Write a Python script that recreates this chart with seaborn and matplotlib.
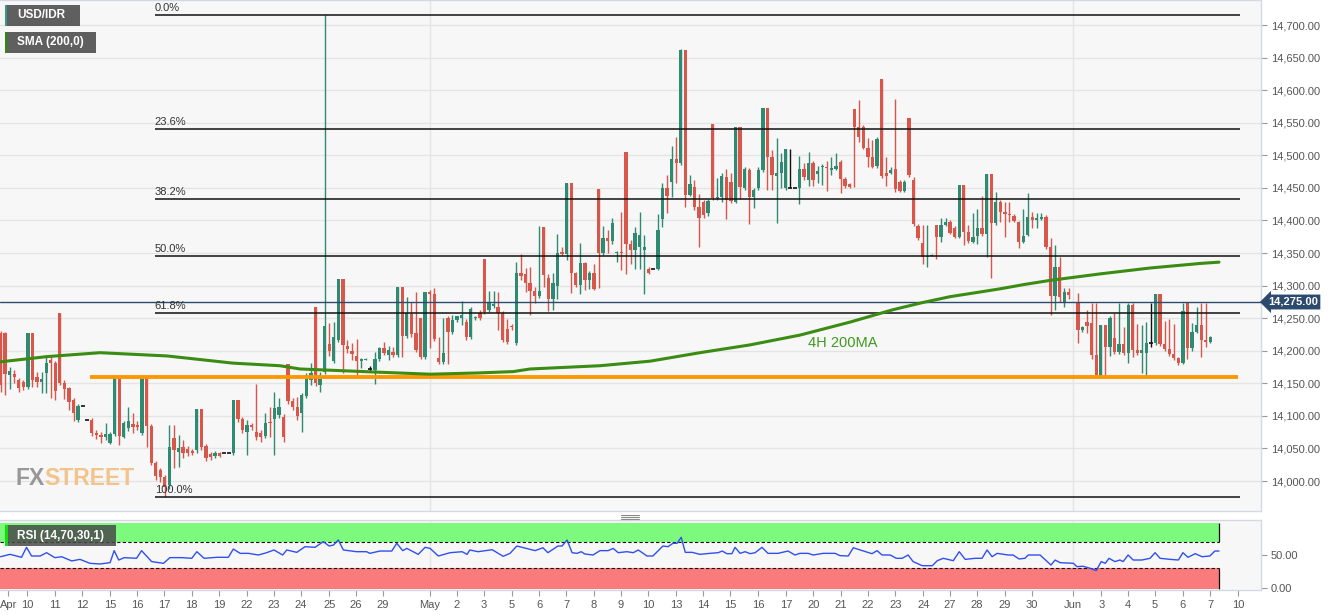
import numpy as np
import pandas as pd
import matplotlib
matplotlib.use("Agg")
import matplotlib.pyplot as plt
import seaborn as sns
from matplotlib.patches import Rectangle
from matplotlib.lines import Line2D

nan = np.nan

# ---------------- data (4H candles, USD/IDR) ----------------
opens = [14227, 14227, 14163, 14164, 14155, 14152, 14144, 14227, 14160, 14152,
         14166, 14186, 14181, 14258, 14150, 14143, 14124, 14094, 14115, 14094,
         14094, 14074, 14071, 14068, 14058, 14072, 14158, 14068, 14081, 14088,
         14086, 14074, 14158, 14084, 14028, 14017, 14006, 13994, 14066, 14045,
         14052, 14049, 14046, 14048, 14111, 14054, 14041, 14039, 14043, 14043,
         14043, 14043, 14124, 14095, 14075, 14086, 14075, 14074, 14069, 14091,
         14095, 14101, 14098, 14180, 14123, 14114, 14104, 14131, 14155, 14267,
         14147, 14167, 14210, 14184, 14216, 14310, 14207, 14200, 14192, 14184,
         14186, 14172, 14170, 14187, 14204, 14193, 14198, 14193, 14298, 14223,
         14256, 14227, 14250, 14190, 14290, 14287, 14189, 14183, 14250, 14229,
         14247, 14250, 14244, 14221, 14250, 14258, 14341, 14263, 14269, 14267,
         14258, 14233, 14238, 14212, 14319, 14318, 14304, 14292, 14284, 14390,
         14312, 14279, 14299, 14352, 14349, 14457, 14319, 14301, 14335, 14309,
         14319, 14448, 14350, 14373, 14368, 14350, 14352, 14505, 14364, 14355,
         14359, 14355, 14325, 14325, 14325, 14402, 14450, 14459, 14494, 14488,
         14662, 14439, 14451, 14421, 14428, 14411, 14548, 14434, 14436, 14467,
         14459, 14428, 14543, 14450, 14477, 14436, 14450, 14477, 14573, 14497,
         14468, 14473, 14450, 14450, 14450, 14450, 14479, 14462, 14488, 14471,
         14482, 14482, 14477, 14479, 14490, 14464, 14456, 14571, 14543, 14543,
         14511, 14497, 14484, 14617, 14473, 14473, 14479, 14459, 14445, 14557,
         14462, 14392, 14365, 14344, 14345, 14393, 14375, 14393, 14398, 14388,
         14375, 14454, 14382, 14367, 14376, 14388, 14379, 14471, 14396, 14428,
         14413, 14410, 14407, 14398, 14367, 14378, 14405, 14401, 14402, 14405,
         14359, 14284, 14329, 14275, 14290, nan, 14273, 14232, 14244, 14243,
         14193, 14161, 14240, 14206, 14220, 14198, 14210, 14197, 14270, 14201,
         14197, 14197, 14212, 14212, 14287, 14210, 14203, 14195, 14189, 14181,
         14273, 14204, 14229, 14240, 14216, 14213]

highs = [14230, 14229, 14175, 14170, 14158, 14155, 14227, 14227, 14167, 14167,
         14193, 14190, 14184, 14258, 14155, 14144, 14127, 14118, 14115, 14094,
         14097, 14078, 14075, 14089, 14075, 14158, 14158, 14092, 14114, 14104,
         14092, 14158, 14158, 14088, 14031, 14020, 14009, 14086, 14086, 14071,
         14063, 14054, 14049, 14111, 14111, 14057, 14045, 14046, 14045, 14043,
         14043, 14124, 14124, 14098, 14094, 14089, 14149, 14078, 14104, 14114,
         14137, 14127, 14103, 14180, 14127, 14129, 14135, 14166, 14181, 14267,
         14167, 14715, 14243, 14244, 14310, 14310, 14216, 14212, 14218, 14189,
         14189, 14177, 14198, 14206, 14213, 14207, 14206, 14298, 14298, 14283,
         14275, 14290, 14250, 14290, 14293, 14296, 14221, 14250, 14253, 14255,
         14253, 14276, 14249, 14267, 14253, 14263, 14341, 14292, 14292, 14290,
         14261, 14249, 14241, 14336, 14349, 14327, 14329, 14298, 14392, 14390,
         14318, 14319, 14379, 14359, 14457, 14457, 14321, 14365, 14336, 14322,
         14333, 14448, 14392, 14385, 14404, 14353, 14413, 14505, 14370, 14390,
         14413, 14378, 14329, 14325, 14410, 14457, 14470, 14514, 14528, 14663,
         14662, 14470, 14462, 14441, 14431, 14433, 14548, 14465, 14473, 14479,
         14473, 14543, 14543, 14482, 14481, 14450, 14482, 14573, 14573, 14508,
         14527, 14504, 14510, 14510, 14450, 14499, 14488, 14505, 14491, 14484,
         14487, 14491, 14497, 14504, 14493, 14467, 14457, 14571, 14585, 14547,
         14527, 14523, 14528, 14617, 14497, 14482, 14586, 14462, 14462, 14557,
         14467, 14395, 14393, 14393, 14349, 14393, 14404, 14404, 14401, 14392,
         14454, 14454, 14393, 14411, 14418, 14437, 14471, 14471, 14444, 14431,
         14428, 14428, 14410, 14399, 14418, 14442, 14413, 14411, 14411, 14408,
         14373, 14362, 14344, 14296, 14296, nan, 14289, 14238, 14263, 14273,
         14273, 14240, 14240, 14253, 14258, 14273, 14236, 14273, 14273, 14241,
         14240, 14244, 14273, 14287, 14287, 14246, 14249, 14241, 14190, 14273,
         14273, 14243, 14267, 14273, 14273, 14223]

lows = [14137, 14132, 14141, 14150, 14137, 14140, 14141, 14144, 14144, 14135,
        14135, 14127, 14124, 14147, 14126, 14109, 14092, 14091, 14115, 14094,
        14069, 14065, 14058, 14063, 14057, 14069, 14055, 14066, 14077, 14074,
        14078, 14071, 14052, 14025, 14002, 13999, 13975, 13988, 14020, 14022,
        14035, 14039, 14040, 14043, 14048, 14031, 14032, 14035, 14037, 14043,
        14043, 14040, 14091, 14074, 14040, 14078, 14063, 14060, 14066, 14068,
        14040, 14097, 14060, 14118, 14109, 14094, 14075, 14127, 14147, 14146,
        14137, 14164, 14192, 14181, 14213, 14166, 14197, 14186, 14163, 14174,
        14186, 14167, 14149, 14184, 14193, 14186, 14190, 14190, 14190, 14220,
        14221, 14198, 14187, 14187, 14204, 14215, 14180, 14180, 14180, 14226,
        14244, 14240, 14216, 14218, 14247, 14247, 14256, 14259, 14266, 14232,
        14213, 14210, 14232, 14209, 14309, 14290, 14255, 14273, 14281, 14298,
        14261, 14263, 14279, 14347, 14339, 14289, 14298, 14287, 14293, 14295,
        14293, 14296, 14347, 14350, 14364, 14336, 14324, 14318, 14333, 14325,
        14325, 14287, 14318, 14325, 14324, 14390, 14411, 14436, 14457, 14485,
        14421, 14437, 14416, 14359, 14404, 14407, 14431, 14431, 14428, 14402,
        14427, 14427, 14433, 14447, 14395, 14419, 14447, 14474, 14447, 14447,
        14396, 14450, 14447, 14450, 14450, 14425, 14462, 14453, 14453, 14457,
        14454, 14445, 14470, 14477, 14442, 14450, 14450, 14451, 14520, 14510,
        14482, 14481, 14481, 14465, 14453, 14471, 14444, 14444, 14444, 14467,
        14392, 14370, 14333, 14329, 14345, 14341, 14367, 14392, 14379, 14373,
        14373, 14362, 14365, 14365, 14364, 14376, 14344, 14312, 14393, 14398,
        14375, 14398, 14398, 14358, 14365, 14376, 14388, 14388, 14401, 14356,
        14255, 14263, 14275, 14267, 14279, nan, 14212, 14229, 14227, 14187,
        14158, 14160, 14163, 14192, 14195, 14195, 14193, 14181, 14190, 14193,
        14166, 14163, 14206, 14209, 14207, 14200, 14192, 14186, 14178, 14180,
        14187, 14200, 14227, 14190, 14206, 14212]

closes = [14147, 14164, 14169, 14160, 14143, 14144, 14227, 14155, 14152, 14157,
          14181, 14181, 14138, 14150, 14141, 14121, 14104, 14115, 14115, 14094,
          14074, 14071, 14068, 14072, 14072, 14158, 14069, 14089, 14092, 14083,
          14083, 14158, 14084, 14028, 14008, 14006, 13991, 14052, 14048, 14051,
          14043, 14043, 14043, 14111, 14052, 14035, 14037, 14043, 14039, 14043,
          14043, 14124, 14095, 14078, 14086, 14083, 14068, 14068, 14089, 14089,
          14112, 14114, 14068, 14123, 14114, 14100, 14132, 14163, 14166, 14150,
          14163, 14238, 14200, 14221, 14310, 14209, 14203, 14195, 14184, 14187,
          14188, 14172, 14187, 14204, 14197, 14201, 14193, 14298, 14223, 14258,
          14226, 14201, 14190, 14290, 14287, 14218, 14183, 14197, 14229, 14247,
          14253, 14255, 14221, 14264, 14252, 14250, 14259, 14273, 14272, 14258,
          14216, 14213, 14236, 14319, 14315, 14304, 14292, 14284, 14292, 14316,
          14279, 14304, 14350, 14349, 14457, 14319, 14301, 14335, 14309, 14319,
          14295, 14350, 14373, 14368, 14396, 14352, 14350, 14364, 14355, 14381,
          14378, 14359, 14319, 14325, 14385, 14450, 14437, 14494, 14488, 14662,
          14439, 14456, 14421, 14404, 14408, 14430, 14434, 14436, 14468, 14431,
          14430, 14543, 14451, 14479, 14436, 14447, 14477, 14573, 14497, 14470,
          14473, 14490, 14510, 14450, 14450, 14479, 14467, 14488, 14462, 14476,
          14484, 14481, 14481, 14484, 14464, 14453, 14451, 14543, 14528, 14511,
          14497, 14482, 14525, 14468, 14468, 14477, 14448, 14445, 14459, 14470,
          14395, 14373, 14344, 14345, 14347, 14375, 14393, 14398, 14381, 14375,
          14454, 14382, 14368, 14375, 14388, 14379, 14471, 14396, 14428, 14413,
          14410, 14408, 14399, 14367, 14376, 14405, 14401, 14404, 14405, 14359,
          14284, 14329, 14283, 14290, 14286, nan, 14232, 14236, 14238, 14193,
          14160, 14240, 14206, 14250, 14198, 14210, 14197, 14270, 14201, 14197,
          14201, 14212, 14212, 14287, 14210, 14203, 14195, 14189, 14181, 14261,
          14204, 14229, 14240, 14216, 14213, 14221]

# 200-period SMA readings (candle index, price)
sma_pos = [0, 10.2, 21.8, 36.5, 50.9, 61.2, 65.6, 83.1, 94.1, 105.0, 112.3, 116.0,
           131.3, 142.3, 153.2, 164.2, 175.1, 186.1, 195.5, 202.0, 208.0, 213.5,
           218.9, 224.5, 229.9, 240.9, 251.8, 262.8, 266.9]
sma_val = [14183, 14191, 14197, 14192, 14181, 14177, 14172, 14167, 14164, 14166,
           14168, 14172, 14177, 14184, 14197, 14209, 14224, 14244, 14263, 14274,
           14283, 14289, 14295, 14302, 14308, 14318, 14327, 14334, 14336]

# RSI(14) readings (candle index, value)
rsi_pos = [0, 2.1, 4.6, 5.7, 6.8, 8.7, 10.1, 11.9, 13.4, 15.6, 17.4, 19.6, 21.8, 24.0,
           24.9, 25.9, 27.1, 29.8, 30.9, 33.1, 35.7, 37.1, 39.7, 41.9, 43.0, 44.6,
           47.4, 49.9, 51.0, 52.5, 54.3, 56.5, 58.3, 59.9, 61.8, 62.7, 64.9, 66.7,
           68.9, 70.7, 72.0, 72.9, 74.0, 75.1, 78.0, 80.2, 80.9, 83.1, 85.7, 86.8,
           88.1, 89.0, 91.5, 93.0, 94.1, 95.9, 98.5, 101.1, 102.2, 102.8, 104.6,
           107.7, 110.1, 111.6, 113.1, 117.1, 118.8, 119.9, 122.1, 123.0, 124.1,
           125.2, 126.3, 127.2, 128.0, 129.8, 131.3, 133.1, 134.2, 135.3, 137.2,
           138.6, 139.7, 141.6, 142.9, 145.1, 146.2, 147.3, 148.2, 149.1, 150.0,
           151.5, 153.2, 155.4, 157.2, 158.1, 159.1, 160.2, 160.9, 162.0, 163.1,
           164.2, 165.3, 166.8, 168.1, 170.3, 172.5, 174.0, 175.1, 176.9, 178.0,
           180.2, 182.8, 183.9, 185.7, 186.8, 188.3, 190.0, 190.9, 192.0, 193.1,
           194.9, 196.2, 197.5, 198.8, 199.9, 201.9, 204.1, 205.2, 206.5, 208.7,
           210.0, 211.3, 213.5, 215.0, 216.1, 217.2, 218.3, 220.7, 221.8, 223.1,
           224.4, 225.1, 227.7, 230.1, 231.0, 232.1, 235.0, 235.8, 237.1, 238.7,
           240.0, 241.1, 242.0, 242.8, 244.1, 245.2, 245.9, 247.0, 248.1, 250.0,
           251.8, 252.9, 254.0, 256.2, 258.0, 259.0, 260.1, 261.7, 263.2, 264.9,
           266.0, 266.9]
rsi_val = [47.4, 51, 46.5, 61.6, 48.5, 48.5, 53.5, 46, 47.4, 41, 43.4, 37.4, 36.4, 38.4,
           56.6, 42.4, 46, 45, 56.6, 40, 37.4, 46, 46, 45, 55, 45,
           46.5, 46.5, 59, 52.5, 52.5, 50, 53.5, 57.6, 50, 57.6, 54, 62.6,
           61.6, 70.2, 63.6, 65, 72.7, 57.6, 55, 55, 52.5, 56, 56, 67.7,
           56.6, 60, 51, 61.6, 60, 48.5, 53.5, 55, 51, 57.6, 55,
           58, 48, 52.5, 63.6, 56.6, 61, 53.5, 63.6, 63.6, 72.7,
           53.5, 52.5, 55, 51.5, 50, 56.6, 56.6, 60, 53.5, 55,
           53.5, 57.6, 48.5, 48.5, 63.6, 62.6, 67.7, 67.7, 76.8, 54,
           54, 51, 52.5, 53.5, 56, 52, 52, 61.6, 52.5, 55,
           52, 53.5, 61.6, 52.5, 52.5, 56, 50, 52.5, 52.5, 50,
           52.5, 52.5, 49, 48.5, 61, 57.6, 54, 52, 56.6, 50,
           50, 45, 45, 50, 40, 33.8, 33.8, 41.4, 45, 41.4,
           55, 43.4, 45, 45, 57.6, 47.4, 52.5, 50, 50, 44,
           45, 50, 50, 34.8, 42.4, 38.4, 37.4, 32.3, 33, 29.8,
           26.3, 40, 37.4, 45, 40, 42.4, 40, 50, 42.4, 42.4,
           45, 53.5, 45, 43.4, 42.4, 53.5, 46.5, 52, 47.4, 48.5,
           56, 56]

# Fibonacci retracement drawn from the low to the spike high
fib_high = 14715
fib_low = 13975
fib_ratios = [0.0, 0.236, 0.382, 0.5, 0.618, 1.0]
fib_labels = ["0.0%", "23.6%", "38.2%", "50.0%", "61.8%", "100.0%"]

support_level = 14160
last_price = 14275

tick_pos = [1.7, 5.9, 11.9, 17.9, 24.0, 29.9, 35.8, 41.9, 47.9, 54.0, 59.9, 65.8, 72.0,
            77.9, 83.8, 94.0, 100.0, 105.9, 112.0, 118.0, 123.9, 130.0, 135.9, 141.8,
            148.0, 153.9, 159.8, 165.9, 172.1, 178.0, 184.1, 190.0, 196.0, 202.1,
            208.0, 213.9, 220.0, 225.9, 234.9, 241.1, 247.0, 252.9, 259.0, 265.0, 271.1]
tick_labels = ["Apr", "10", "11", "12", "15", "16", "17", "18", "19", "22", "23", "24",
               "25", "26", "29", "May", "2", "3", "5", "6", "7", "8", "9", "10", "13",
               "14", "15", "16", "17", "20", "21", "22", "23", "24", "27", "28", "29",
               "30", "Jun", "3", "4", "5", "6", "7", "10"]
month_pos = [94.0, 234.9]

price_ticks = list(range(14000, 14701, 50))

# ---------------- styling ----------------
sns.set_theme(style="white")
plt.rcParams["font.family"] = ["Liberation Sans", "DejaVu Sans"]

W, H = 1331, 615
fig = plt.figure(figsize=(W / 100, H / 100), dpi=100, facecolor="white")


def fx(x):
    return x / W


def fy(y):
    return 1 - y / H


ax = fig.add_axes([0, fy(511), fx(1261), fy(0) - fy(511)])
rax = fig.add_axes([0, fy(590), fx(1261), fy(520) - fy(590)])

XMIN, XMAX = -0.11, 276.1
BG = "#f7f7f7"
GRID = "#e4e4e4"
SPINE = "#d3d9e4"
GREEN = "#2e8a70"
RED = "#d8574a"

for a in (ax, rax):
    a.set_facecolor(BG)
    a.set_xlim(XMIN, XMAX)
    for s in a.spines.values():
        s.set_color(SPINE)
        s.set_linewidth(1)
    a.spines["left"].set_visible(False)
    for m in month_pos:
        a.axvline(m, color=GRID, lw=1, zorder=0)

ax.set_ylim(13954.0, 14738.4)
for v in price_ticks:
    ax.axhline(v, color=GRID, lw=1, zorder=0)

# watermark (drawn behind the candles)
logo_font = ["Liberation Sans Narrow", "Liberation Sans", "DejaVu Sans"]
t1 = ax.text(0.012, 0.05, "FX", transform=ax.transAxes, color="#8e8e8e", fontsize=16.5,
             fontweight="bold", family=logo_font, ha="left", va="baseline",
             alpha=0.9, zorder=1)
fig.canvas.draw()
bb = t1.get_window_extent()
x_end = ax.transAxes.inverted().transform((bb.x1, bb.y0))[0]
ax.text(x_end, 0.05, "STREET", transform=ax.transAxes, color="#f2c184", fontsize=16.5,
        fontweight="bold", family=logo_font, ha="left", va="baseline",
        alpha=0.95, zorder=1)

# ---------------- candles ----------------
df = pd.DataFrame({"o": opens, "h": highs, "l": lows, "c": closes})
df["i"] = np.arange(len(df))
df = df.dropna()
cols = np.where(df["c"] > df["o"], GREEN, np.where(df["c"] < df["o"], RED, "#111111"))
ax.vlines(df["i"], df["l"], df["h"], colors=cols, lw=1.0, zorder=3)
body_h = np.maximum((df["c"] - df["o"]).abs(), 1.3)
body_b = np.minimum(df["o"], df["c"])
moving = df["c"] != df["o"]
ax.bar(df["i"][moving], body_h[moving], bottom=body_b[moving], width=0.72,
       color=cols[moving.values], linewidth=0, zorder=4)
flat = df[~moving]
ax.hlines(flat["o"], flat["i"] - 0.45, flat["i"] + 0.45, colors="#111111", lw=1.2, zorder=4)

# ---------------- overlays ----------------
fib_x0 = 33.8
fib_x1 = 271.5
for r, lab in zip(fib_ratios, fib_labels):
    lvl = fib_high - r * (fib_high - fib_low)
    ax.hlines(lvl, fib_x0, fib_x1, color="#111111", lw=1.1, zorder=5)
    ax.annotate(lab, (fib_x0, lvl), xytext=(0, 1.5), textcoords="offset points",
                ha="left", va="bottom", fontsize=8, color="#333333", zorder=7)

ax.hlines(support_level, 19.6, 271.1, color="#ff9800", lw=2.8, zorder=6)
ax.axhline(last_price, color="#2b4a6e", lw=1, zorder=5)

sns.lineplot(x=sma_pos, y=sma_val, ax=ax, color="#3a8c12", linewidth=2.2,
             sort=False, legend=False, zorder=6)
ax.text(176.9, 14212, "4H 200MA", color="#3e9b1e", fontsize=10.5,
        ha="left", va="center", zorder=7)

# axis ticks of main panel
ax.yaxis.tick_right()
ax.set_yticks(price_ticks)
ax.set_yticklabels([f"{v:,.2f}" for v in price_ticks])
ax.set_xticks([])
ax.tick_params(axis="y", right=True, length=4, width=0.8, color="#999999",
               labelsize=8, labelcolor="#555555", pad=3)
ax.set_xlabel("")
ax.set_ylabel("")

# ---------------- RSI panel ----------------
rsi_end = 266.9
rax.set_ylim(-3, 103)
rax.fill_between([XMIN, rsi_end], 70, 99, color="#7dfa7d", lw=0, zorder=1)
rax.fill_between([XMIN, rsi_end], -1.5, 30, color="#fa7b7b", lw=0, zorder=1)
rax.hlines([70, 30], XMIN, rsi_end, colors="#111111", linestyles=(0, (3, 2)), lw=0.8, zorder=2)
rax.vlines(rsi_end, 70, 99, colors="#111111", lw=0.9, zorder=2)
rax.vlines(rsi_end, -1.5, 30, colors="#111111", lw=0.9, zorder=2)
sns.lineplot(x=rsi_pos, y=rsi_val, ax=rax, color="#2f50f0", linewidth=1.0,
             sort=False, legend=False, zorder=3)
rax.yaxis.tick_right()
rax.set_yticks([0, 50])
rax.set_yticklabels(["0.00", "50.00"])
rax.set_xticks(tick_pos)
rax.set_xticklabels(tick_labels)
rax.tick_params(axis="y", right=True, length=4, width=0.8, color="#999999",
                labelsize=8, labelcolor="#555555", pad=3)
rax.tick_params(axis="x", bottom=True, length=4, width=0.8, color="#999999",
                labelsize=8, labelcolor="#555555", pad=3)
rax.set_xlabel("")
rax.set_ylabel("")

# ---------------- labels / decorations ----------------
def box(x0, y0, x1, y1, fc, alpha=1.0):
    fig.add_artist(Rectangle((fx(x0), fy(y1)), fx(x1) - fx(x0), fy(y0) - fy(y1),
                             transform=fig.transFigure, facecolor=fc, edgecolor="none",
                             alpha=alpha, zorder=10))


box(5, 5, 80, 26, "#5f5f5f")
box(5, 5, 7, 26, "#2f9c86")
fig.text(fx(17), fy(15.5), "USD/IDR", color="white", fontsize=8.5, fontweight="bold",
         ha="left", va="center", zorder=11)
box(5, 32, 96, 53, "#5f5f5f")
box(5, 32, 7, 53, "#2c8a0c")
fig.text(fx(17), fy(42.5), "SMA (200,0)", color="white", fontsize=8.5, fontweight="bold",
         ha="left", va="center", zorder=11)
box(5, 525, 116, 546, "#4a4a4a", alpha=0.85)
box(5, 525, 8, 546, "#11dd11")
fig.text(fx(17), fy(535.5), "RSI (14,70,30,1)", color="white", fontsize=8.5,
         fontweight="bold", ha="left", va="center", zorder=11)

# price tag
fig.text(fx(1268), fy(302), f"{last_price:,.2f}", color="white", fontsize=8,
         fontweight="bold", ha="left", va="center", zorder=11,
         bbox=dict(boxstyle="larrow,pad=0.22", fc="#2b4a6e", ec="none"))

# panel resize handle
for yy in (514.5, 516.5, 518.5):
    fig.add_artist(Line2D([fx(621), fx(639)], [fy(yy), fy(yy)], color="#8a8a8a",
                          lw=0.8, transform=fig.transFigure))

fig.savefig("out.png", dpi=100, facecolor="white")
